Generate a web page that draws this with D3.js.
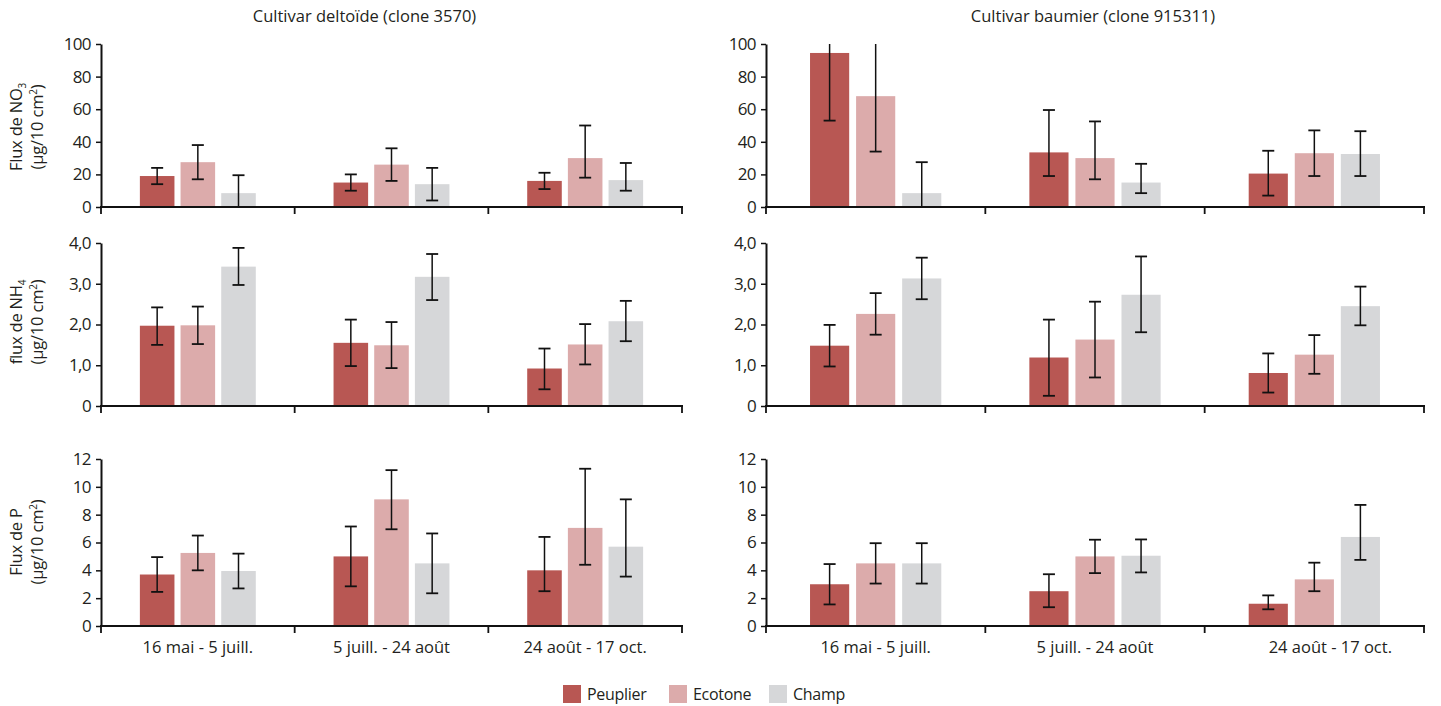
<!DOCTYPE html>
<html>
<head>
<meta charset="utf-8">
<script src="https://cdn.jsdelivr.net/npm/d3@7"></script>
<style>
  body { margin: 0; background: #fff; }
  text { font-family: "Open Sans", "Noto Sans", sans-serif; fill: #231f20; }
</style>
</head>
<body>
<div class="canvas"></div>
<script>
// categories
const periods = ['16 mai - 5 juill.', '5 juill. - 24 août', '24 août - 17 oct.'];
const series = ['Peuplier', 'Ecotone', 'Champ'];
const colors = ['#b85753', '#dcabab', '#d6d7d9'];

// values: [series][period]; lo/hi = ends of the error bars
const no3DeltVal = [[19, 15, 16], [27.5, 26, 30], [8.5, 14, 16.5]];
const no3DeltLo = [[14, 10, 11], [17, 16, 18], [0, 4, 10]];
const no3DeltHi = [[24, 20, 21], [38, 36, 50], [19.5, 24, 27]];

const no3BaumVal = [[94.5, 33.5, 20.5], [68, 30, 33], [8.5, 15, 32.5]];
const no3BaumLo = [[53, 19, 7], [34, 17, 19], [0, 8.5, 19]];
const no3BaumHi = [[136, 59.5, 34.5], [102, 52.5, 47], [27.5, 26.5, 46.5]];

const nh4DeltVal = [[1.97, 1.55, 0.92], [1.98, 1.49, 1.51], [3.42, 3.17, 2.08]];
const nh4DeltLo = [[1.5, 0.98, 0.41], [1.52, 0.93, 1.02], [2.97, 2.6, 1.59]];
const nh4DeltHi = [[2.42, 2.12, 1.41], [2.44, 2.06, 2.01], [3.88, 3.73, 2.58]];

const nh4BaumVal = [[1.48, 1.19, 0.81], [2.26, 1.63, 1.26], [3.13, 2.73, 2.45]];
const nh4BaumLo = [[0.97, 0.25, 0.33], [1.75, 0.7, 0.79], [2.62, 1.81, 1.98]];
const nh4BaumHi = [[1.99, 2.12, 1.29], [2.77, 2.56, 1.74], [3.64, 3.67, 2.93]];

const pDeltVal = [[3.7, 5.0, 4.0], [5.25, 9.1, 7.05], [3.95, 4.5, 5.7]];
const pDeltLo = [[2.45, 2.85, 2.5], [4.0, 6.95, 4.4], [2.7, 2.35, 3.55]];
const pDeltHi = [[4.95, 7.15, 6.4], [6.5, 11.2, 11.3], [5.2, 6.65, 9.1]];

const pBaumVal = [[3.0, 2.5, 1.6], [4.5, 5.0, 3.35], [4.5, 5.05, 6.4]];
const pBaumLo = [[1.55, 1.35, 1.2], [3.05, 3.8, 2.5], [3.05, 3.85, 4.75]];
const pBaumHi = [[4.45, 3.72, 2.2], [5.95, 6.2, 4.55], [5.95, 6.22, 8.7]];

// tick labels
const no3Ticks = [0, 20, 40, 60, 80, 100];
const nh4Ticks = [0, 1, 2, 3, 4];
const pTicks = [0, 2, 4, 6, 8, 10, 12];

const titles = ['Cultivar deltoïde (clone 3570)', 'Cultivar baumier (clone 915311)'];

const W = 1441, H = 706;
const svg = d3.select('.canvas').append('svg')
  .attr('width', W).attr('height', H);

// layout of the 2 columns and 3 rows
const cols = [{ x0: 101, x1: 682 }, { x0: 766, x1: 1424 }];
const rows = [
  { y0: 44, y1: 207, max: 100, ticks: no3Ticks, fmt: d => d },
  { y0: 243, y1: 406, max: 4, ticks: nh4Ticks, fmt: d => d === 0 ? '0' : d3.format('.1f')(d).replace('.', ',') },
  { y0: 459, y1: 626, max: 12, ticks: pTicks, fmt: d => d }
];

const panels = [
  [0, 0, no3DeltVal, no3DeltLo, no3DeltHi],
  [0, 1, no3BaumVal, no3BaumLo, no3BaumHi],
  [1, 0, nh4DeltVal, nh4DeltLo, nh4DeltHi],
  [1, 1, nh4BaumVal, nh4BaumLo, nh4BaumHi],
  [2, 0, pDeltVal, pDeltLo, pDeltHi],
  [2, 1, pBaumVal, pBaumLo, pBaumHi]
];

panels.forEach(([r, c, vals, lo, hi]) => {
  const row = rows[r], col = cols[c];
  const g = svg.append('g');

  const x0 = d3.scaleBand().domain(periods).range([col.x0, col.x1]);
  const bw = x0.bandwidth();
  const x1 = d3.scaleBand().domain(series)
    .range([0.185 * bw, 0.815 * bw])
    .paddingInner(0.15).paddingOuter(0.075);
  const y = d3.scaleLinear().domain([0, row.max]).range([row.y1, row.y0]);

  const data = [];
  series.forEach((s, si) => periods.forEach((p, pi) => {
    data.push({ s, si, p, v: vals[si][pi], lo: lo[si][pi], hi: hi[si][pi] });
  }));

  // bars
  g.selectAll('.bar').data(data).enter().append('rect')
    .attr('x', d => x0(d.p) + x1(d.s))
    .attr('y', d => y(d.v))
    .attr('width', x1.bandwidth())
    .attr('height', d => y(0) - y(d.v))
    .attr('fill', d => colors[d.si]);

  // error bars (cut at the top of the axis when they go past it)
  const eb = g.selectAll('.err').data(data).enter().append('g');
  const cx = d => x0(d.p) + x1(d.s) + x1.bandwidth() / 2;
  eb.append('line')
    .attr('x1', cx).attr('x2', cx)
    .attr('y1', d => y(Math.max(d.lo, 0)))
    .attr('y2', d => y(Math.min(d.hi, row.max)))
    .attr('stroke', '#111').attr('stroke-width', 1.5);
  eb.filter(d => d.hi <= row.max).append('line')
    .attr('x1', d => cx(d) - 6).attr('x2', d => cx(d) + 6)
    .attr('y1', d => y(d.hi)).attr('y2', d => y(d.hi))
    .attr('stroke', '#111').attr('stroke-width', 1.8);
  eb.filter(d => d.lo > 0).append('line')
    .attr('x1', d => cx(d) - 6).attr('x2', d => cx(d) + 6)
    .attr('y1', d => y(d.lo)).attr('y2', d => y(d.lo))
    .attr('stroke', '#111').attr('stroke-width', 1.8);

  // y axis
  const ya = g.append('g')
    .attr('transform', `translate(${col.x0},0)`)
    .call(d3.axisLeft(y).tickValues(row.ticks).tickFormat(row.fmt).tickSize(5).tickSizeOuter(0).tickPadding(5));
  ya.select('.domain').attr('stroke', '#111').attr('stroke-width', 2);
  ya.selectAll('.tick line').attr('stroke', '#111').attr('stroke-width', 1.5);
  ya.selectAll('.tick text').style('font-size', '17px').style('font-family', '"Open Sans", sans-serif')
    .attr('fill', '#231f20').attr('letter-spacing', '-0.6');

  // x axis: line with ticks at group boundaries
  const bounds = periods.map(p => x0(p)).concat([col.x1]);
  g.append('line')
    .attr('x1', col.x0 - 1).attr('x2', col.x1 + 1)
    .attr('y1', y(0)).attr('y2', y(0))
    .attr('stroke', '#111').attr('stroke-width', 2);
  g.selectAll('.xt').data(bounds).enter().append('line')
    .attr('x1', d => d).attr('x2', d => d)
    .attr('y1', y(0)).attr('y2', y(0) + 7)
    .attr('stroke', '#111').attr('stroke-width', 1.8);

  if (r === 2) {
    g.selectAll('.xl').data(periods).enter().append('text')
      .attr('x', d => x0(d) + bw / 2 + (c === 1 && d === periods[2] ? 16 : 0))
      .attr('y', y(0) + 27)
      .attr('text-anchor', 'middle')
      .style('font-size', '16.5px')
      .text(d => d);
  }
  if (r === 0) {
    g.append('text')
      .attr('x', (col.x0 + col.x1) / 2 + (c === 0 ? -27 : -2))
      .attr('y', 22)
      .attr('text-anchor', 'middle')
      .style('font-size', '16.5px')
      .text(titles[c]);
  }
});

// y axis titles
const yTitles = [
  { main: 'Flux de NO', sub: '3', cy: 127 },
  { main: 'flux de NH', sub: '4', cy: 322 },
  { main: 'Flux de P', sub: null, cy: 542 }
];
yTitles.forEach(t => {
  const g = svg.append('g').attr('transform', `translate(0,${t.cy}) rotate(-90)`);
  const t1 = g.append('text').attr('x', 0).attr('y', 22)
    .attr('text-anchor', 'middle').style('font-size', '16.5px').attr('letter-spacing', '-0.2');
  t1.append('tspan').text(t.main);
  if (t.sub) t1.append('tspan').attr('dy', 4).style('font-size', '10px').text(t.sub);
  const t2 = g.append('text').attr('x', 0).attr('y', 43)
    .attr('text-anchor', 'middle').style('font-size', '16.5px').attr('letter-spacing', '-0.2');
  t2.append('tspan').text('(µg/10 cm');
  t2.append('tspan').attr('dy', -6).style('font-size', '10px').text('2');
  t2.append('tspan').attr('dy', 6).text(')');
});

// legend
const legX = [563, 669, 769];
const leg = svg.append('g').selectAll('g').data(series).enter().append('g')
  .attr('transform', (d, i) => `translate(${legX[i]},685)`);
leg.append('rect').attr('width', 18).attr('height', 18).attr('fill', (d, i) => colors[i]);
leg.append('text').attr('x', 24).attr('y', 15).style('font-size', '16px')
  .attr('letter-spacing', '-0.3').text(d => d);
</script>
</body>
</html>
